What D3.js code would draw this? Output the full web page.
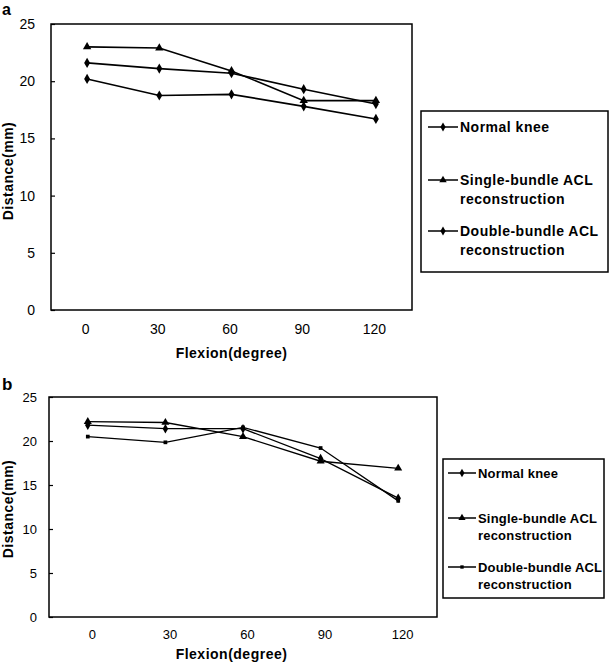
<!DOCTYPE html>
<html><head><meta charset="utf-8">
<script src="https://cdn.jsdelivr.net/npm/d3@7"></script>
<style>body{margin:0;background:#fff}svg{display:block}text{font-family:"Liberation Sans",Arial,sans-serif;fill:#000}</style>
</head><body><svg id="c" width="609" height="663"></svg>
<script>
const categories = ["0","30","60","90","120"];
const yTicks = [0,5,10,15,20,25];
const seriesNames = ["Normal knee","Single-bundle ACL reconstruction","Double-bundle ACL reconstruction"];
// Panel a
const aNormal = [21.6,21.1,20.7,19.3,18.0];
const aSingle = [23.0,22.9,20.9,18.3,18.3];
const aDouble = [20.2,18.75,18.85,17.8,16.7];
// Panel b
const bNormal = [21.8,21.4,21.4,18.0,13.5];
const bSingle = [22.2,22.1,20.5,17.7,16.9];
const bDouble = [20.5,19.85,21.55,19.2,13.2];

const svg = d3.select("#c");

function panel(cfg){
  const g = svg.append("g");
  const x = d3.scalePoint().domain(categories).range([cfg.x0,cfg.x1]).padding(0.5);
  const y = d3.scaleLinear().domain([0,25]).range([cfg.y1,cfg.y0]);
  // frame
  g.append("rect").attr("x",cfg.x0).attr("y",cfg.y0).attr("width",cfg.x1-cfg.x0).attr("height",cfg.y1-cfg.y0)
    .attr("fill","none").attr("stroke","#000").attr("stroke-width",1.5);
  // y axis (ticks point inward)
  const ya = g.append("g").attr("transform",`translate(${cfg.x0},0)`)
    .call(d3.axisLeft(y).tickValues(yTicks).tickSize(-4).tickPadding(cfg.yPad).tickFormat(d3.format("d")));
  ya.select(".domain").remove();
  ya.selectAll("line").attr("stroke","#000").attr("stroke-width",1.2);
  ya.selectAll("text").style("font-size",cfg.tickFont).style("font-family","'Liberation Sans',Arial,sans-serif");
  // x axis labels
  const xa = g.append("g").attr("transform",`translate(${cfg.xShift},${cfg.y1})`)
    .call(d3.axisBottom(x).tickSize(0).tickPadding(cfg.xPad));
  xa.select(".domain").remove();
  xa.selectAll("text").style("font-size",cfg.tickFont).style("font-family","'Liberation Sans',Arial,sans-serif");
  // titles
  g.append("text").attr("x",cfg.xTitleX).attr("y",cfg.xTitleY).attr("text-anchor","middle")
    .style("font-size","14px").style("font-weight","bold").style("letter-spacing","0.5px").text("Flexion(degree)");
  g.append("text").attr("transform",`translate(13,${cfg.yTitleC}) rotate(-90)`).attr("text-anchor","middle")
    .style("font-size","14px").style("font-weight","bold").style("letter-spacing","0.5px").text("Distance(mm)");
  g.append("text").attr("x",2).attr("y",cfg.letterY).style("font-size",cfg.letterFont).style("font-weight","bold").text(cfg.letter);
  // series
  const line = d3.line().x((d,i)=>x(categories[i])).y(d=>y(d));
  cfg.series.forEach((s,k)=>{
    g.append("path").datum(s.values).attr("d",line).attr("fill","none").attr("stroke","#000").attr("stroke-width",cfg.lw);
    g.selectAll(null).data(s.values).enter().append("path")
      .attr("transform",(d,i)=>`translate(${x(categories[i])},${y(d)})`)
      .attr("d",d3.symbol().type(s.sym).size(s.size)).attr("fill","#000");
  });
  // legend
  const L = cfg.legend;
  g.append("rect").attr("x",L.x0).attr("y",L.y0).attr("width",L.x1-L.x0).attr("height",L.y1-L.y0)
    .attr("fill","#fff").attr("stroke","#000").attr("stroke-width",1.5);
  cfg.series.forEach((s,k)=>{
    const yc = L.rows[k];
    g.append("line").attr("x1",L.lx0).attr("x2",L.lx1).attr("y1",yc).attr("y2",yc).attr("stroke","#000").attr("stroke-width",1.5);
    g.append("path").attr("transform",`translate(${(L.lx0+L.lx1)/2},${yc})`)
      .attr("d",d3.symbol().type(s.sym).size(s.size*0.8)).attr("fill","#000");
    const words = seriesNames[k].split(" ");
    const lines = k===0 ? [seriesNames[k]] : [words.slice(0,2).join(" "), words.slice(2).join(" ")];
    lines.forEach((t,j)=>{
      g.append("text").attr("x",L.tx).attr("y",yc+5+j*L.lh)
        .style("font-size",L.font).style("font-weight","bold").style("letter-spacing",L.ls).text(t);
    });
  });
}

panel({
  letter:"a", letterY:14.5, letterFont:"16px", tickFont:"14px", xShift:-2,
  x0:51, x1:412, y0:24, y1:310, yPad:16, xPad:14, xTitleX:231.5, xTitleY:358, yTitleC:171, lw:1.6,
  series:[
    {values:aNormal, sym:d3.symbolDiamond, size:30},
    {values:aSingle, sym:d3.symbolTriangle, size:30},
    {values:aDouble, sym:d3.symbolDiamond, size:30}
  ],
  legend:{x0:421,x1:608,y0:111,y1:272,rows:[127,180,231],lh:19,lx0:428,lx1:458,tx:460,font:"14px",ls:"0.5px"}
});
panel({
  letter:"b", letterY:390, letterFont:"17px", tickFont:"13px", xShift:4,
  x0:49, x1:437, y0:397, y1:617, yPad:12, xPad:13, xTitleX:231.5, xTitleY:659, yTitleC:509, lw:1.3,
  series:[
    {values:bNormal, sym:d3.symbolDiamond, size:26},
    {values:bSingle, sym:d3.symbolTriangle, size:28},
    {values:bDouble, sym:d3.symbolSquare, size:14}
  ],
  legend:{x0:443,x1:604,y0:459,y1:598,rows:[473,518,567],lh:17,lx0:448,lx1:476,tx:478,font:"13px",ls:"0.2px"}
});
</script></body></html>
